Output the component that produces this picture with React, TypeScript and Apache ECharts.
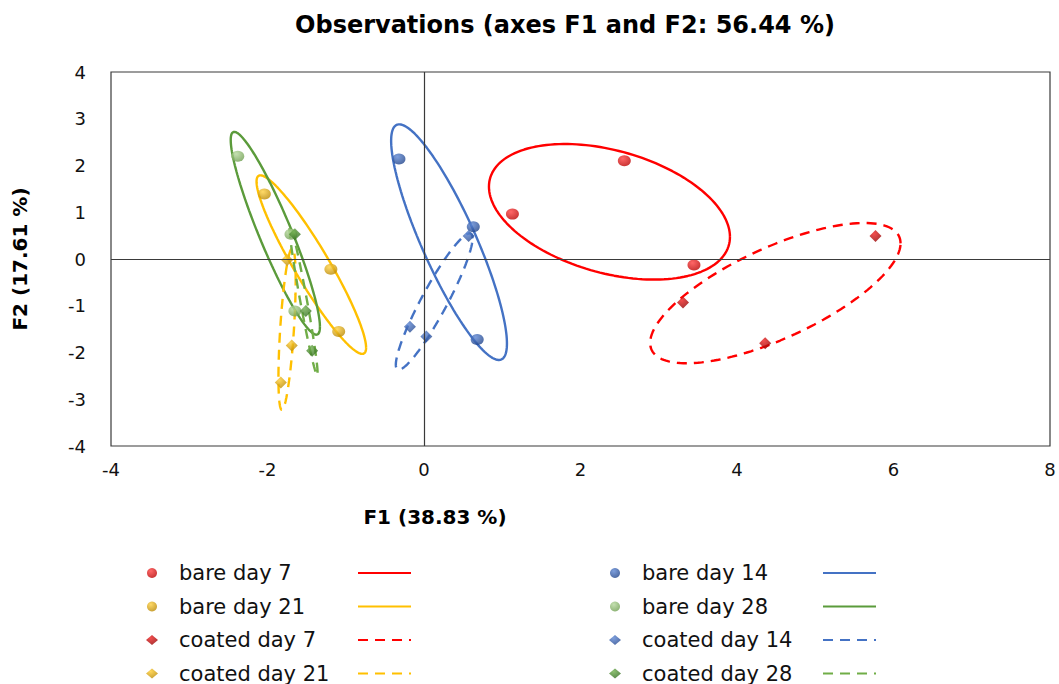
import React, { useEffect, useRef } from 'react';
import * as echarts from 'echarts';

const FONT = 'DejaVu Sans';

const seriesNames = [
  'bare day 7', 'bare day 14', 'bare day 21', 'bare day 28',
  'coated day 7', 'coated day 14', 'coated day 21', 'coated day 28',
];

// Observation coordinates [F1, F2]
const bareDay7 = [[2.56, 2.10], [1.13, 0.96], [3.45, -0.13]];
const bareDay14 = [[-0.32, 2.14], [0.63, 0.69], [0.68, -1.72]];
const bareDay21 = [[-2.04, 1.39], [-1.19, -0.22], [-1.09, -1.55]];
const bareDay28 = [[-2.38, 2.20], [-1.70, 0.53], [-1.65, -1.11]];
const coatedDay7 = [[5.77, 0.49], [3.31, -0.93], [4.36, -1.80]];
const coatedDay14 = [[0.57, 0.49], [-0.18, -1.45], [0.03, -1.66]];
const coatedDay21 = [[-1.75, -0.02], [-1.69, -1.85], [-1.83, -2.64]];
const coatedDay28 = [[-1.65, 0.53], [-1.51, -1.11], [-1.43, -1.96]];
const pointSets = [bareDay7, bareDay14, bareDay21, bareDay28, coatedDay7, coatedDay14, coatedDay21, coatedDay28];

// Confidence ellipse parameters (centre, half extents, correlation) in F1/F2 units
const ellipseCx = [2.37, 0.32, -1.44, -1.90, 4.49, 0.13, -1.75, -1.54];
const ellipseCy = [1.01, 0.36, -0.12, 0.55, -0.73, -0.91, -1.50, -0.88];
const ellipseSx = [1.54, 0.74, 0.70, 0.57, 1.60, 0.49, 0.11, 0.18];
const ellipseSy = [1.45, 2.52, 1.91, 2.17, 1.50, 1.46, 1.73, 1.60];
const ellipseRho = [-0.37, -0.86, -0.93, -0.92, 0.71, 0.925, 0.6, -0.97];

const xTicks = { min: -4, max: 8, interval: 2 };
const yTicks = { min: -4, max: 4, interval: 1 };

const lineColors = ['#FF0000', '#4472C4', '#FFC000', '#5B9B3B', '#FF0000', '#4472C4', '#FFC000', '#70AD47'];
const markerLight = ['#FF4040', '#5C86D4', '#FFD040', '#B5D89C', '#F02020', '#5C86D4', '#FFCC30', '#6FAE4C'];
const markerDark = ['#B80000', '#1F4288', '#B88600', '#6E9E50', '#900000', '#23468C', '#B88600', '#2F6A1C'];

const leftCol = ['bare day 7', 'bare day 21', 'coated day 7', 'coated day 21'];
const rightCol = ['bare day 14', 'bare day 28', 'coated day 14', 'coated day 28'];

function ellipsePoints(i: number) {
  const pts: number[][] = [];
  const n = 160;
  const r = ellipseRho[i];
  const q = Math.sqrt(1 - r * r);
  for (let k = 0; k <= n; k++) {
    const t = (2 * Math.PI * k) / n;
    pts.push([
      ellipseCx[i] + ellipseSx[i] * Math.cos(t),
      ellipseCy[i] + ellipseSy[i] * (r * Math.cos(t) + q * Math.sin(t)),
    ]);
  }
  return pts;
}

export default function App() {
  const ref = useRef<HTMLDivElement>(null);
  useEffect(() => {
    if (!ref.current) return;
    const chart = echarts.init(ref.current, null, { renderer: 'svg' });

    const scatterSeries = seriesNames.map((name, i) => ({
      name,
      type: 'scatter',
      data: pointSets[i],
      symbol: i < 4 ? 'circle' : 'diamond',
      symbolSize: i < 4 ? [13, 11] : [12, 12],
      z: 4,
      itemStyle: {
        color: new echarts.graphic.RadialGradient(0.38, 0.3, 0.75, [
          { offset: 0, color: markerLight[i] },
          { offset: 1, color: markerDark[i] },
        ]),
      },
    }));

    const ellipseSeries = seriesNames.map((name, i) => ({
      name: name + ' ellipse',
      type: 'line',
      data: ellipsePoints(i),
      symbol: 'none',
      showSymbol: false,
      smooth: false,
      silent: true,
      z: 2,
      itemStyle: { color: lineColors[i] },
      lineStyle: {
        color: lineColors[i],
        width: 2.4,
        type: i < 4 ? 'solid' : [10, 7],
      },
    }));

    const legendText = {
      fontSize: 21,
      lineHeight: 22,
      color: '#111',
      fontFamily: FONT,
    };
    const common = {
      orient: 'vertical',
      top: 557,
      height: 130,
      itemGap: 11.5,
      selectedMode: false,
    };

    const option: any = {
      animation: false,
      backgroundColor: '#fff',
      title: {
        text: 'Observations (axes F1 and F2: 56.44 %)',
        left: 560,
        top: 8,
        textAlign: 'center',
        textStyle: { fontSize: 24, fontWeight: 'bold', color: '#000', fontFamily: FONT },
      },
      grid: {
        left: 111,
        right: 9,
        top: 72,
        bottom: 238,
        show: true,
        borderColor: '#3a3a3a',
        borderWidth: 1.2,
      },
      xAxis: {
        type: 'value',
        ...xTicks,
        axisLine: { show: false },
        axisTick: { show: false },
        splitLine: { show: false },
        axisLabel: { fontSize: 18, color: '#111', margin: 14, fontFamily: FONT },
      },
      yAxis: {
        type: 'value',
        ...yTicks,
        axisLine: { show: false },
        axisTick: { show: false },
        splitLine: { show: false },
        axisLabel: { fontSize: 18, color: '#111', margin: 25, fontFamily: FONT },
        name: 'F2 (17.61 %)',
        nameLocation: 'middle',
        nameGap: 81,
        nameTextStyle: { fontSize: 20, fontWeight: 'bold', color: '#000', fontFamily: FONT },
      },
      legend: [
        {
          ...common, data: leftCol, left: 141,
          itemWidth: 12, itemHeight: 10,
          textStyle: { ...legendText, padding: [0, 0, 0, 16] },
        },
        {
          ...common, data: rightCol, left: 604,
          itemWidth: 12, itemHeight: 10,
          textStyle: { ...legendText, padding: [0, 0, 0, 16] },
        },
        {
          ...common, data: leftCol.map((n) => n + ' ellipse'), left: 352,
          itemWidth: 53, itemHeight: 10,
          itemStyle: { opacity: 0, color: 'rgba(0,0,0,0)', borderWidth: 0 },
          formatter: () => ' ',
          textStyle: legendText,
        },
        {
          ...common, data: rightCol.map((n) => n + ' ellipse'), left: 817,
          itemWidth: 53, itemHeight: 10,
          itemStyle: { opacity: 0, color: 'rgba(0,0,0,0)', borderWidth: 0 },
          formatter: () => ' ',
          textStyle: legendText,
        },
      ],
      graphic: [
        {
          type: 'text',
          x: 435,
          y: 517,
          style: {
            text: 'F1 (38.83 %)',
            fontSize: 20,
            fontWeight: 'bold',
            fontFamily: FONT,
            fill: '#000',
            align: 'center',
            verticalAlign: 'middle',
            textAlign: 'center',
            textVerticalAlign: 'middle',
          },
        },
      ],
      series: [
        {
          name: 'zero lines',
          type: 'scatter',
          data: [],
          z: 1,
          markLine: {
            silent: true,
            symbol: 'none',
            label: { show: false },
            lineStyle: { color: '#3a3a3a', width: 1.2, type: 'solid' },
            data: [{ xAxis: 0 }, { yAxis: 0 }],
          },
        },
        ...ellipseSeries,
        ...scatterSeries,
      ],
    };
    chart.setOption(option);
    return () => chart.dispose();
  }, []);

  return (
    <div
      ref={ref}
      style={{ position: 'fixed', left: 0, top: 0, width: 1059, height: 684, background: '#fff' }}
    />
  );
}
